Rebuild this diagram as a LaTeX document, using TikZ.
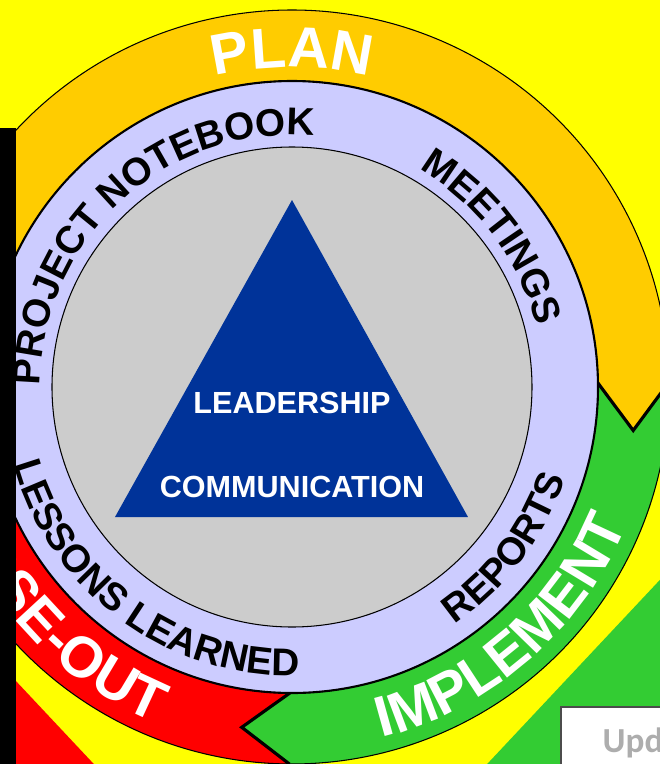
\documentclass[tikz,border=0pt]{standalone}
\usepackage{fontspec}
\setmainfont{Liberation Sans}
\newfontfamily\updfont{Carlito}
\usetikzlibrary{decorations.text}
\definecolor{bgyellow}{HTML}{FFFF00}
\definecolor{ringorange}{HTML}{FFCC00}
\definecolor{ringgreen}{HTML}{33CC33}
\definecolor{ringred}{HTML}{FF0000}
\definecolor{lavender}{HTML}{CCCCFF}
\definecolor{graydisc}{HTML}{CCCCCC}
\definecolor{triblue}{HTML}{003399}
\tikzset{
  seg/.style={draw=black, line width=0.3pt, line join=miter},
  chevron/.style={draw=black, line width=0.9pt, line join=miter},
  tritext/.style={text=white, font=\fontsize{8.7}{10}\selectfont\bfseries, inner sep=0pt},
  arcsmall/.style={decorate, decoration={text along path, text align=center,
                   text={|\fontsize{11}{13}\selectfont\bfseries|#1}}},
  arcbig/.style={decorate, decoration={text along path, text align=center, text color=white,
                 text={|\fontsize{16.3}{19}\selectfont\bfseries|#1}}},
}
\begin{document}
\begin{tikzpicture}
  \useasboundingbox (-2.92,-3.77) rectangle (3.68,3.87);
  \clip (-2.92,-3.77) rectangle (3.68,3.87);

  % background and corner pieces
  \fill[bgyellow] (-3,-3.9) rectangle (3.8,4);
  \fill[ringgreen] (3.8,-1.80) -- (1.83,-3.9) -- (3.8,-3.9) -- cycle;
  \fill[ringred] (-3,-2.685) -- (-1.86,-3.9) -- (-3,-3.9) -- cycle;

  % cycle arrows: plan, implement, close-out
  \foreach \a/\b/\col in {190/0.74/ringorange, 0.74/-90.4/ringgreen, 269.6/190/ringred}
    \filldraw[seg, fill=\col] (\a:3.77) arc[start angle=\a, end angle=\b, radius=3.77]
      -- ({\b-8}:3.44) -- (\b:3.06) arc[start angle=\b, end angle=\a, radius=3.06]
      -- ({\a-8}:3.44) -- cycle;
  \foreach \b in {0.74, -90.4, 190}
    \draw[chevron] (\b:3.77) -- ({\b-8}:3.44) -- (\b:3.06);

  % inner discs
  \filldraw[fill=lavender, draw=black, line width=0.6pt] (0,0) circle (3.06);
  \filldraw[fill=graydisc, draw=black, line width=0.3pt] (0,0) circle (2.40);

  % triangle
  \fill[triblue] (0,1.87) -- (-1.77,-1.30) -- (1.76,-1.30) -- cycle;
  \node[tritext] (lead) at (0,-0.16) {LEADERSHIP};
  \node[tritext] (comm) at (0,-1.00) {COMMUNICATION};

  % ring labels
  \path[arcbig={PLAN}] (130:3.20) arc[start angle=130, end angle=50, radius=3.20];
  \path[arcbig={IMPLEMENT}] (270:3.62) arc[start angle=270, end angle=352, radius=3.62];
  \path[arcbig={CLOSE-OUT}] (185:3.62) arc[start angle=185, end angle=257.4, radius=3.62];
  \path[arcsmall={PROJECT NOTEBOOK}] (190:2.52) arc[start angle=190, end angle=74.4, radius=2.52];
  \path[arcsmall={MEETINGS}] (70:2.52) arc[start angle=70, end angle=3.6, radius=2.52];
  \path[arcsmall={LESSONS LEARNED}] (190:2.89) arc[start angle=190, end angle=277, radius=2.89];
  \path[arcsmall={REPORTS}] (293:2.88) arc[start angle=293, end angle=353, radius=2.88];

  % note box, cut by the frame
  \filldraw[fill=white, draw=black!70, line width=0.4pt] (2.69,-3.20) rectangle (3.9,-4);
  \node[anchor=base west, inner sep=0pt, text=black!32, font=\updfont\fontsize{10}{12}\selectfont\bfseries]
    (upd) at (3.10,-3.65) {Upd};

  % left bar
  \fill[black] (-3,-3.9) rectangle (-2.76,2.59);
\end{tikzpicture}
\end{document}
